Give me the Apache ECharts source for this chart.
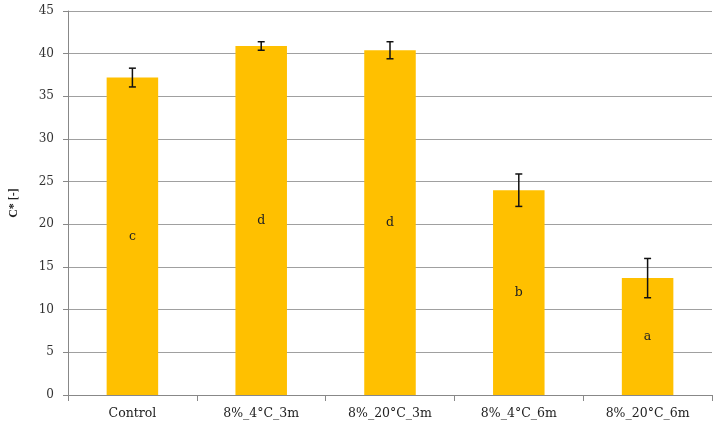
<!DOCTYPE html>
<html>
<head>
<meta charset="utf-8">
<script src="https://cdn.jsdelivr.net/npm/echarts@6/dist/echarts.min.js"></script>
<style>
  html, body { margin: 0; padding: 0; background: #fff; }
  #chart { width: 714px; height: 427px; }
</style>
</head>
<body>
<div id="chart"></div>
<script>
// data
var categories = ['Control', '8%_4°C_3m', '8%_20°C_3m', '8%_4°C_6m', '8%_20°C_6m'];
var means = [37.2, 40.9, 40.4, 24.0, 13.7];
var errors = [1.1, 0.5, 1.0, 1.9, 2.3];
var letters = ['c', 'd', 'd', 'b', 'a'];

var font = 'DejaVu Serif';

var chart = echarts.init(document.getElementById('chart'));

var errData = means.map(function (m, i) {
  return [i, m - errors[i], m + errors[i]];
});

var option = {
  animation: false,
  grid: { left: 66, right: 2, top: 11, bottom: 32 },
  xAxis: {
    type: 'category',
    data: categories,
    axisLine: { lineStyle: { color: '#888', width: 1 } },
    axisTick: { show: true, alignWithLabel: false, length: 6, lineStyle: { color: '#888' } },
    axisLabel: { color: '#222', fontFamily: font, fontSize: 12.5, margin: 12 }
  },
  yAxis: {
    type: 'value',
    min: 0,
    max: 45,
    interval: 5,
    name: 'C* [-]',
    nameLocation: 'middle',
    nameGap: 48,
    nameTextStyle: { color: '#222', fontFamily: 'Liberation Serif', fontSize: 12, fontWeight: 'bold' },
    axisLine: { show: true, lineStyle: { color: '#888' } },
    axisTick: { show: true, length: 5, lineStyle: { color: '#888' } },
    axisLabel: { color: '#333', fontFamily: font, fontSize: 12, margin: 14 },
    splitLine: { lineStyle: { color: '#a0a0a0', width: 1 } }
  },
  series: [
    {
      type: 'bar',
      data: means,
      barWidth: '40%',
      itemStyle: { color: '#FFC000' },
      label: {
        show: true,
        position: 'inside',
        color: '#222',
        fontFamily: font,
        fontSize: 12.5,
        formatter: function (p) { return letters[p.dataIndex]; }
      }
    },
    {
      type: 'custom',
      data: errData,
      z: 10,
      renderItem: function (params, api) {
        var x = api.value(0);
        var lo = api.coord([x, api.value(1)]);
        var hi = api.coord([x, api.value(2)]);
        var cap = 3.5;
        var style = { stroke: '#111', lineWidth: 1.5 };
        return {
          type: 'group',
          children: [
            { type: 'line', shape: { x1: hi[0], y1: hi[1], x2: lo[0], y2: lo[1] }, style: style },
            { type: 'line', shape: { x1: hi[0] - cap, y1: hi[1], x2: hi[0] + cap, y2: hi[1] }, style: style },
            { type: 'line', shape: { x1: lo[0] - cap, y1: lo[1], x2: lo[0] + cap, y2: lo[1] }, style: style }
          ]
        };
      }
    }
  ]
};

chart.setOption(option);
</script>
</body>
</html>
